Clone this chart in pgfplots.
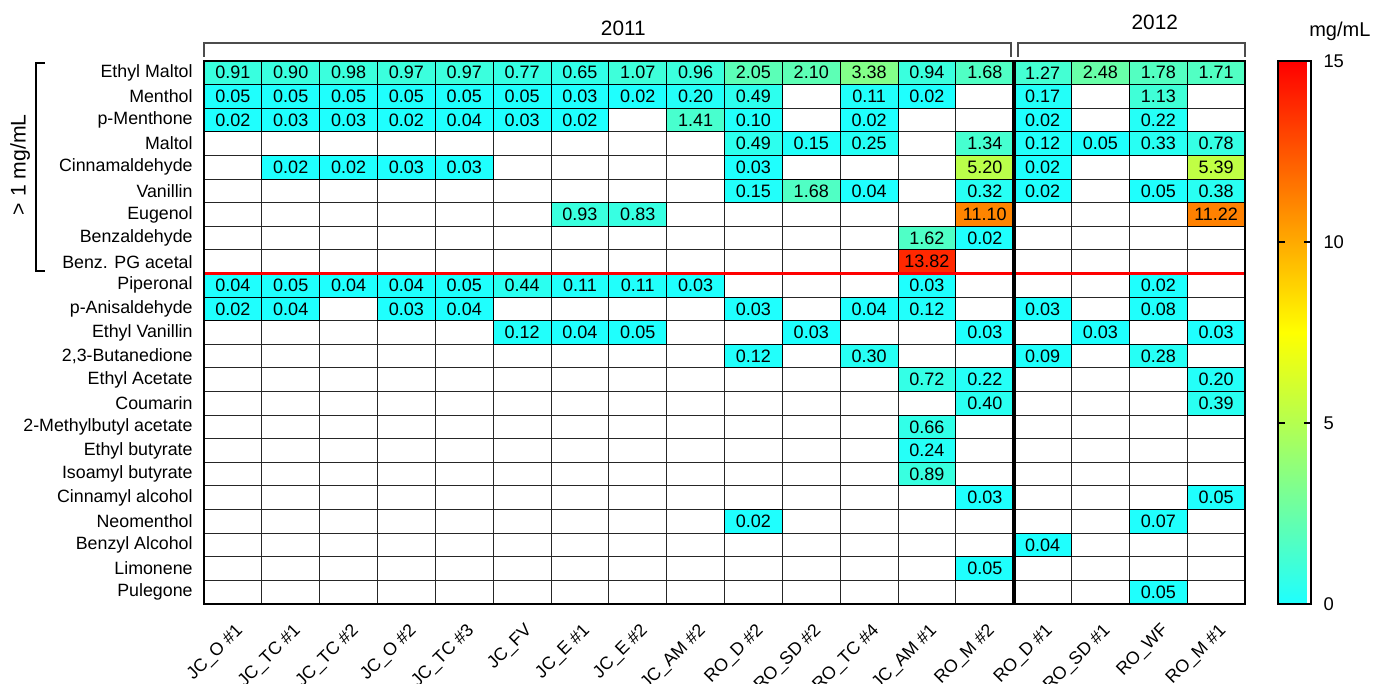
\documentclass[border=0pt]{standalone}
\usepackage{pgfplots}
\pgfplotsset{compat=1.18}
\usepackage{fontspec}
\setmainfont{Liberation Sans}
\pgfplotsset{/pgf/number format/assume math mode=true}
\pgfdeclareplotmark{cell}{%
  \pgfsetlinewidth{0.5pt}%
  \pgfpathrectangle{\pgfqpoint{-14.458pt}{-5.902pt}}{\pgfqpoint{28.917pt}{11.804pt}}%
  \pgfusepathqfillstroke}
\pgfplotstableread{
x y v
0.5 0.5 0.91
1.5 0.5 0.90
2.5 0.5 0.98
3.5 0.5 0.97
4.5 0.5 0.97
5.5 0.5 0.77
6.5 0.5 0.65
7.5 0.5 1.07
8.5 0.5 0.96
9.5 0.5 2.05
10.5 0.5 2.10
11.5 0.5 3.38
12.5 0.5 0.94
13.5 0.5 1.68
14.5 0.5 1.27
15.5 0.5 2.48
16.5 0.5 1.78
17.5 0.5 1.71
0.5 1.5 0.05
1.5 1.5 0.05
2.5 1.5 0.05
3.5 1.5 0.05
4.5 1.5 0.05
5.5 1.5 0.05
6.5 1.5 0.03
7.5 1.5 0.02
8.5 1.5 0.20
9.5 1.5 0.49
11.5 1.5 0.11
12.5 1.5 0.02
14.5 1.5 0.17
16.5 1.5 1.13
0.5 2.5 0.02
1.5 2.5 0.03
2.5 2.5 0.03
3.5 2.5 0.02
4.5 2.5 0.04
5.5 2.5 0.03
6.5 2.5 0.02
8.5 2.5 1.41
9.5 2.5 0.10
11.5 2.5 0.02
14.5 2.5 0.02
16.5 2.5 0.22
9.5 3.5 0.49
10.5 3.5 0.15
11.5 3.5 0.25
13.5 3.5 1.34
14.5 3.5 0.12
15.5 3.5 0.05
16.5 3.5 0.33
17.5 3.5 0.78
1.5 4.5 0.02
2.5 4.5 0.02
3.5 4.5 0.03
4.5 4.5 0.03
9.5 4.5 0.03
13.5 4.5 5.20
14.5 4.5 0.02
17.5 4.5 5.39
9.5 5.5 0.15
10.5 5.5 1.68
11.5 5.5 0.04
13.5 5.5 0.32
14.5 5.5 0.02
16.5 5.5 0.05
17.5 5.5 0.38
6.5 6.5 0.93
7.5 6.5 0.83
13.5 6.5 11.10
17.5 6.5 11.22
12.5 7.5 1.62
13.5 7.5 0.02
12.5 8.5 13.82
0.5 9.5 0.04
1.5 9.5 0.05
2.5 9.5 0.04
3.5 9.5 0.04
4.5 9.5 0.05
5.5 9.5 0.44
6.5 9.5 0.11
7.5 9.5 0.11
8.5 9.5 0.03
12.5 9.5 0.03
16.5 9.5 0.02
0.5 10.5 0.02
1.5 10.5 0.04
3.5 10.5 0.03
4.5 10.5 0.04
9.5 10.5 0.03
11.5 10.5 0.04
12.5 10.5 0.12
14.5 10.5 0.03
16.5 10.5 0.08
5.5 11.5 0.12
6.5 11.5 0.04
7.5 11.5 0.05
10.5 11.5 0.03
13.5 11.5 0.03
15.5 11.5 0.03
17.5 11.5 0.03
9.5 12.5 0.12
11.5 12.5 0.30
14.5 12.5 0.09
16.5 12.5 0.28
12.5 13.5 0.72
13.5 13.5 0.22
17.5 13.5 0.20
13.5 14.5 0.40
17.5 14.5 0.39
12.5 15.5 0.66
12.5 16.5 0.24
12.5 17.5 0.89
13.5 18.5 0.03
17.5 18.5 0.05
9.5 19.5 0.02
16.5 19.5 0.07
14.5 20.5 0.04
13.5 21.5 0.05
16.5 22.5 0.05
}\cells
\begin{document}
\begin{tikzpicture}
\useasboundingbox (0,0) rectangle (693pt,342pt);
\begin{axis}[
  at={(102pt,311.5pt)}, anchor=north west,
  x=28.917pt, y=11.804pt, y dir=reverse,
  xmin=0, xmax=18, ymin=0, ymax=23,
  clip=false,
  axis line style={line width=1pt},
  xtick={0.5,1.5,2.5,3.5,4.5,5.5,6.5,7.5,8.5,9.5,10.5,11.5,12.5,13.5,14.5,15.5,16.5,17.5},
  xticklabels={{JC\_O \#1},{JC\_TC \#1},{JC\_TC \#2},{JC\_O \#2},{JC\_TC \#3},{JC\_FV},{JC\_E \#1},{JC\_E \#2},{JC\_AM \#2},{RO\_D \#2},{RO\_SD \#2},{RO\_TC \#4},{JC\_AM \#1},{RO\_M \#2},{RO\_D \#1},{RO\_SD \#1},{RO\_WF},{RO\_M \#1}},
  ytick={0.5,1.5,2.5,3.5,4.5,5.5,6.5,7.5,8.5,9.5,10.5,11.5,12.5,13.5,14.5,15.5,16.5,17.5,18.5,19.5,20.5,21.5,22.5},
  yticklabels={{Ethyl Maltol},{Menthol},{p-Menthone},{Maltol},{Cinnamaldehyde},{Vanillin},{Eugenol},{Benzaldehyde},{Benz. PG acetal},{Piperonal},{p-Anisaldehyde},{Ethyl Vanillin},{2,3-Butanedione},{Ethyl Acetate},{Coumarin},{2-Methylbutyl acetate},{Ethyl butyrate},{Isoamyl butyrate},{Cinnamyl alcohol},{Neomenthol},{Benzyl Alcohol},{Limonene},{Pulegone}},
  minor xtick={0,1,...,18},
  minor ytick={0,1,...,23},
  grid=minor,
  minor grid style={black!85, line width=0.5pt},
  major tick length=0pt, minor tick length=0pt,
  yticklabel style={font=\fontsize{8.9}{10}\selectfont, inner sep=0pt, anchor=east, xshift=-5.5pt},
  xticklabel style={font=\fontsize{8.9}{10}\selectfont, xshift=3.8pt, yshift=-11.8pt, rotate=45, anchor=east, inner sep=0pt},
  colormap={cmap}{rgb255(0cm)=(30,255,255); rgb255(5cm)=(180,255,80); rgb255(7.5cm)=(255,255,0); rgb255(10cm)=(255,170,0); rgb255(15cm)=(255,0,0)},
  point meta min=0, point meta max=15,
  colorbar,
  colorbar style={
    at={(parent axis.north east)}, anchor=north west, xshift=8pt,
    width=16.5pt, height=271.5pt, y dir=normal,
    ytick={0,5,10,15},
    yticklabel pos=right, ytick pos=both, ytick align=inside,
    major tick length=3.5pt,
    ytick style={black, line width=0.8pt},
    axis line style={line width=1.2pt},
    yticklabel style={font=\fontsize{9.2}{11}\selectfont, anchor=west, inner sep=0pt, xshift=6pt},
  },
]
\addplot[scatter, only marks, mark=cell, point meta=explicit,
  scatter/@pre marker code/.code={%
    \pgfplotscolormapdefinemappedcolor{\pgfplotspointmetatransformed}%
    \begin{pgfscope}\pgfsetfillcolor{mapped color}\pgfsetstrokecolor{black}},
  scatter/@post marker code/.code={\end{pgfscope}},
] table[x=x, y=y, meta=v] {\cells};
\addplot[only marks, mark=*, mark size=0pt, mark options={draw=none, fill=none}, point meta=explicit,
  nodes near coords={\pgfmathprintnumber[fixed,fixed zerofill,precision=2]{\pgfplotspointmeta}},
  nodes near coords align=center,
  every node near coord/.append style={anchor=center, font=\fontsize{9}{10}\selectfont, inner sep=0pt, text=black},
] table[x=x, y=y, meta=v] {\cells};
\coordinate (tl) at (axis cs:0,0);
\coordinate (br) at (axis cs:18,23);
\coordinate (r1) at (axis cs:0,9);
\coordinate (r2) at (axis cs:18,9);
\coordinate (v1) at (axis cs:14,0);
\coordinate (v2) at (axis cs:14,23);
\draw[black!70, line width=0.8pt] (axis cs:0,-0.17) -- (axis cs:0,-0.76) -- (axis cs:13.95,-0.76) -- (axis cs:13.95,-0.17);
\draw[black!70, line width=0.8pt] (axis cs:14.07,-0.17) -- (axis cs:14.07,-0.76) -- (axis cs:18,-0.76) -- (axis cs:18,-0.17);
\node[font=\fontsize{10.4}{12}\selectfont] at (axis cs:7.25,-1.4) {2011};
\node[font=\fontsize{10.4}{12}\selectfont] at (axis cs:16.44,-1.65) {2012};
\node[font=\fontsize{10}{12}\selectfont] at (axis cs:19.64,-1.27) {mg/mL};
\draw[black, line width=0.8pt] (axis cs:-2.75,0.08) -- (axis cs:-2.9,0.08) -- (axis cs:-2.9,8.9) -- (axis cs:-2.75,8.9);
\node[font=\fontsize{10.6}{12}\selectfont, rotate=90] at (axis cs:-3.18,4.4) {> 1 mg/mL};
\end{axis}
\draw[red, line width=1.6pt] (r1) -- (r2);
\draw[black, line width=2pt] (v1) -- (v2);
\draw[black, line width=1.2pt] (tl) rectangle (br);
\end{tikzpicture}
\end{document}
